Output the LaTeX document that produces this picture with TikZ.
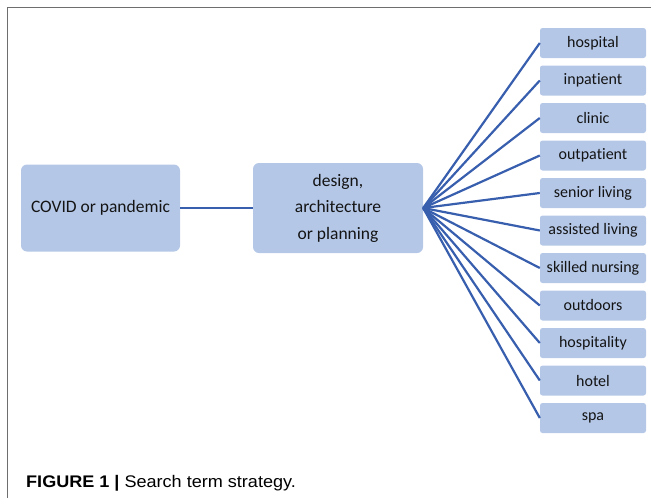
\documentclass[tikz,border=0pt]{standalone}
\usepackage{fontspec}
\setmainfont[Ligatures=NoCommon]{Carlito}
\newfontfamily\capfont{Liberation Sans}
\definecolor{boxfill}{RGB}{180,199,231}
\definecolor{linkblue}{RGB}{56,94,174}
\definecolor{framegray}{RGB}{110,110,110}
\definecolor{txt}{RGB}{20,20,20}
\begin{document}
\begin{tikzpicture}[x=1pt,y=-1pt,
  bigbox/.style={fill=boxfill,draw=none,rounded corners=6pt,inner sep=0pt,
    text=txt,font=\fontsize{17.5}{26.5}\selectfont,align=center},
  termbox/.style={fill=boxfill,draw=none,rounded corners=2.5pt,inner sep=0pt,
    minimum width=106pt,minimum height=30pt,text=txt,
    font=\fontsize{16}{19}\selectfont},
  link/.style={draw=linkblue,line width=2.2pt}]
\useasboundingbox (0,0) rectangle (651,498);
% frame
\draw[framegray,line width=1pt] (7.5,498) -- (7.5,7.5) -- (651,7.5);
% main boxes
\node[bigbox,minimum width=159pt,minimum height=87pt] (covid) at (100.5,208) {COVID or pandemic};
\node[bigbox,minimum width=170pt,minimum height=90pt] (design) at (338,208) {design,\\architecture\\or planning};
\draw[link] (covid.east) -- (design.west);
% terms
\foreach \n/\t [count=\i from 0] in {hospital/hospital,inpatient/inpatient,clinic/clinic,
  outpatient/outpatient,senior/senior living,assisted/assisted living,
  skilled/skilled nursing,outdoors/outdoors,hospitality/hospitality,hotel/hotel,spa/spa}{
  \node[termbox] (\n) at (593,43+37.5*\i) {\t};
  \draw[link] (design.east) -- (\n.west);
}
% caption
\node[anchor=base west,inner sep=0pt,text=black] (cap) at (26,487.5)
  {\scalebox{1.075}[1]{\capfont\fontsize{16.8}{19}\selectfont\textbf{FIGURE 1 |} Search term strategy.}};
\end{tikzpicture}
\end{document}
